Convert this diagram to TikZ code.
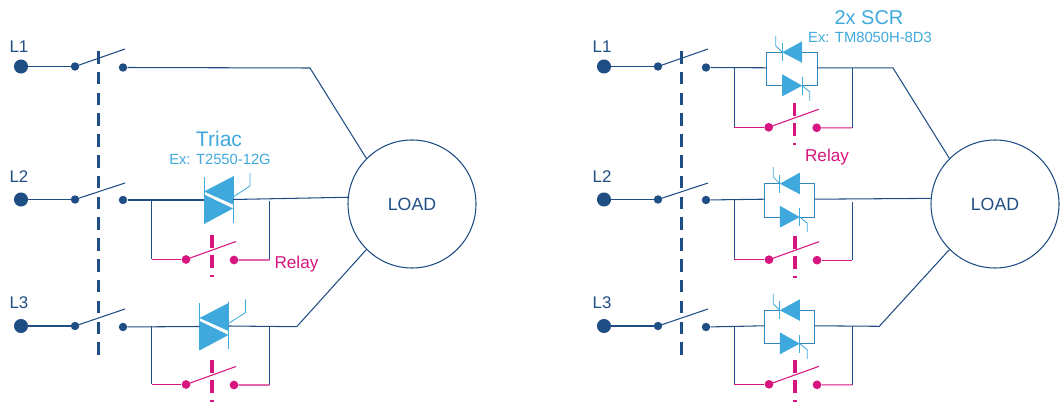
\documentclass[tikz,border=0pt]{standalone}
\usepackage{fontspec}
\setmainfont{Liberation Sans}
\usepackage{xcolor}
\usetikzlibrary{positioning}

\definecolor{navy}{HTML}{1F4E85}
\definecolor{skyblue}{HTML}{3FA9DD}
\definecolor{relaypink}{HTML}{D6157E}

\tikzset{
  wire/.style={navy, line width=0.75pt},
  relaywire/.style={relaypink, line width=0.75pt},
  thinwire/.style={skyblue, line width=0.6pt},
  boxwire/.style={skyblue!60!navy, line width=0.75pt},
  gang/.style={navy, line width=2.7pt, dash pattern=on 8.9pt off 5.9pt},
  relaygang/.style={relaypink, line width=2.3pt, dash pattern=on 9.2pt off 5pt},
  bigdot/.style={circle, fill=navy, inner sep=0pt, minimum size=10pt},
  smalldot/.style={circle, fill=navy, inner sep=0pt, minimum size=6pt},
  reddot/.style={circle, fill=relaypink, inner sep=0pt, minimum size=6.2pt},
  loadcircle/.style={circle, draw=navy, line width=0.75pt, inner sep=0pt, minimum size=128*0.025cm, text=navy, font=\fontsize{12.6}{14}\selectfont},
  linelabel/.style={navy, font=\fontsize{12}{14}\selectfont},
  triaclabel/.style={skyblue, font=\fontsize{15}{17}\selectfont},
  scrlabel/.style={skyblue, font=\fontsize{14.2}{16}\selectfont},
  exlabel/.style={skyblue, font=\fontsize{10.5}{12}\selectfont},
  relaylabel/.style={relaypink, font=\fontsize{12.2}{14}\selectfont},
  triac/.pic={
    \fill[skyblue] (0,-8.5) -- (29,-23.5) -- (29,4.5) -- cycle;
    \fill[skyblue] (0,-5.5) -- (29,8.5) -- (0,24) -- cycle;
    \draw[thinwire] (0,-23) -- (0,24);
    \draw[thinwire] (29,-24) -- (29,23);
    \draw[thinwire] (29,-3) -- (46,-14) -- (46,-27);
    \coordinate (-in) at (0,0);
    \coordinate (-out) at (29,-0.5);
  },
  scrpair/.pic={
    \draw[boxwire] (15.5,0) -- (0,0) -- (0,33.4) -- (15.5,33.4);
    \draw[boxwire] (35.5,0) -- (50.5,0) -- (50.5,33.4) -- (35.5,33.4);
    \fill[skyblue] (15.5,0) -- (35.5,-11) -- (35.5,10.5) -- cycle;
    \fill[skyblue] (15.5,22) -- (35.5,33.4) -- (15.5,44) -- cycle;
    \draw[thinwire] (15.5,-9) -- (15.5,9);
    \draw[thinwire] (15.5,0) -- (9,-6.5) -- (9,-16.5);
    \draw[thinwire] (35.5,24.5) -- (35.5,42.5);
    \draw[thinwire] (35.5,33.4) -- (43,39.5) -- (43,48.5);
    \coordinate (-in) at (0,15.5);
    \coordinate (-out) at (50.5,15.5);
  },
  relaycontact/.pic={
    \node[reddot] (-l) at (0,0) {};
    \node[reddot] (-r) at (48,0.5) {};
    \coordinate (-e) at (50,-18);
    \draw[relaywire] (-l.center) -- (-e);
    \draw[relaygang] (26,-24) -- (26,18);
  },
}

\begin{document}
\begin{tikzpicture}[x=0.025cm, y=-0.025cm]

\useasboundingbox (0,0) rectangle (1060,405);

% line side: the same three switches on both drawings
\foreach \s/\dx in {a/0,b/583} {
  \begin{scope}[xshift=\dx*0.025cm]
  \foreach \n/\ybig/\ysmall/\yend/\yout/\ytext in {1/66.5/66.5/49/67.5/47,2/199.5/199.5/183/200/177,3/326/326/309/327/303} {
    \node[linelabel] (\s lab\n) at (19,\ytext) {L\n};
    \node[bigdot] (\s big\n) at (21,\ybig) {};
    \node[smalldot] (\s in\n) at (75,\ysmall) {};
    \node[smalldot] (\s out\n) at (123,\yout) {};
    \coordinate (\s end\n) at (125,\yend);
    \draw[wire] (\s big\n) -- (\s in\n);
    \draw[wire] (\s in\n.center) -- (\s end\n);
  }
  \coordinate (\s gangtop) at (98.5,51);
  \coordinate (\s gangbot) at (98.5,362);
  \draw[gang] (\s gangtop) -- (\s gangbot);
  \end{scope}
}

\node[loadcircle] (loadA) at (412,204) {LOAD};
\node[loadcircle] (loadB) at (995,204) {LOAD};

% left drawing
\pic (t2) at (204,200) {triac};
\pic (t3) at (199.5,326.5) {triac};
\node[triaclabel] (triaclab) at (219,139) {Triac};
\node[exlabel] (triacex) at (220,159) {Ex: T2550-12G};

\coordinate (bendA1) at (310,68);
\coordinate (bendA3) at (296.7,326.7);
\draw[wire] (aout1) -- (bendA1) -- (loadA.135);
\draw[wire] (aout2) -- (t2-in);
\draw[wire] (t2-out) -- (loadA.174);
\draw[wire] (aout3) -- (t3-in);
\draw[wire] (t3-out) -- (bendA3) -- (loadA.225);

% right drawing
\pic (s1) at (766.7,52.3) {scrpair};
\pic (s2) at (764.3,183.7) {scrpair};
\pic (s3) at (764.3,310.3) {scrpair};
\node[scrlabel] (scrlab) at (869,18) {2x SCR};
\node[exlabel] (screx) at (870,37) {Ex: TM8050H-8D3};

\coordinate (bendB3) at (879.3,326.3);
\draw[wire] (bout1) -- (s1-in);
\draw[wire] (s1-out) -- ++(75.7,0) coordinate (bendB1) -- (loadB.135);
\draw[wire] (bout2) -- (s2-in);
\draw[wire] (s2-out) -- (loadB.175);
\draw[wire] (bout3) -- (s3-in);
\draw[wire] (s3-out) -- (bendB3) -- (loadB.225);

% relays across each device
\foreach \r/\xo/\yo/\xa/\xb/\ya/\yb in {
  ra2/186/259.5/151.5/269.5/200/201,
  ra3/186/384.5/151.7/269.7/326/327,
  rb1/768.7/127.3/734.3/852.3/67.3/68,
  rb2/769/259.7/734.3/852.3/200/201.7,
  rb3/769/384.3/734.3/852.7/325.7/326.3} {
  \pic (\r) at (\xo,\yo) {relaycontact};
  \coordinate (\r lt) at (\xa,\ya);
  \coordinate (\r lb) at (\xa,\yo);
  \coordinate (\r rt) at (\xb,\yb);
  \coordinate (\r rb) at (\xb,\yo+0.5);
  \draw[wire] (\r lt) -- (\r lb);
  \draw[wire] (\r rt) -- (\r rb);
  \draw[relaywire] (\r lb) -- (\r-l);
  \draw[relaywire] (\r-r) -- (\r rb);
}

\node[relaylabel] (relayA) at (296.5,264) {Relay};
\node[relaylabel] (relayB) at (827,157) {Relay};

\end{tikzpicture}
\end{document}
